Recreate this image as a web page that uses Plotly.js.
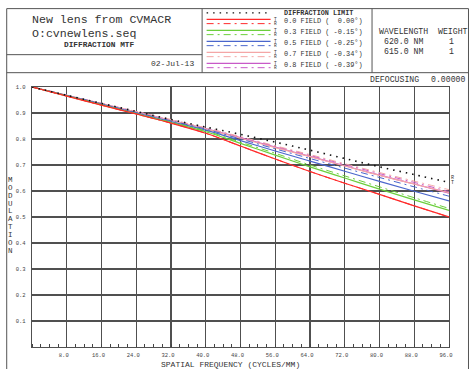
<!DOCTYPE html>
<html><head><meta charset="utf-8">
<script src="https://cdn.plot.ly/plotly-3.0.1.min.js"></script>
<style>html,body{margin:0;padding:0;background:#fff;}#chart{width:475px;height:369px;}</style>
</head><body><div id="chart"></div>
<script>
// ---- data ----
var freq = [0, 8, 16, 24, 32, 40, 48, 56, 64, 72, 80, 88, 96];
var diffLimit = [1.0, 0.968, 0.937, 0.906, 0.875, 0.846, 0.818, 0.788, 0.757, 0.725, 0.693, 0.663, 0.633];
var f00T = [1.0, 0.965, 0.930, 0.896, 0.861, 0.822, 0.773, 0.723, 0.675, 0.630, 0.587, 0.543, 0.500];
var f00R = [1.0, 0.965, 0.930, 0.896, 0.861, 0.822, 0.773, 0.723, 0.675, 0.630, 0.587, 0.543, 0.500];
var f03T = [1.0, 0.966, 0.931, 0.897, 0.863, 0.828, 0.783, 0.738, 0.693, 0.650, 0.607, 0.566, 0.525];
var f03R = [1.0, 0.966, 0.932, 0.898, 0.865, 0.831, 0.788, 0.745, 0.700, 0.658, 0.616, 0.574, 0.533];
var f05T = [1.0, 0.967, 0.934, 0.900, 0.867, 0.834, 0.794, 0.754, 0.715, 0.676, 0.637, 0.599, 0.562];
var f05R = [1.0, 0.968, 0.935, 0.902, 0.870, 0.838, 0.800, 0.762, 0.725, 0.688, 0.652, 0.616, 0.580];
var f07T = [1.0, 0.968, 0.936, 0.904, 0.872, 0.839, 0.803, 0.767, 0.732, 0.696, 0.660, 0.627, 0.594];
var f07R = [1.0, 0.968, 0.937, 0.906, 0.875, 0.843, 0.809, 0.774, 0.740, 0.705, 0.671, 0.638, 0.605];
var f08T = [1.0, 0.968, 0.936, 0.904, 0.872, 0.840, 0.805, 0.769, 0.733, 0.697, 0.661, 0.627, 0.592];
var f08R = [1.0, 0.968, 0.937, 0.905, 0.873, 0.842, 0.807, 0.772, 0.737, 0.702, 0.667, 0.633, 0.598];

var xTickVals = [0, 8, 16, 24, 32, 40, 48, 56, 64, 72, 80, 88, 96];
var xTickText = ['', '8.0', '16.0', '24.0', '32.0', '40.0', '48.0', '56.0', '64.0', '72.0', '80.0', '88.0', '96.0'];
var yTickVals = [0, 0.1, 0.2, 0.3, 0.4, 0.5, 0.6, 0.7, 0.8, 0.9, 1.0];
var yTickText = ['', '0.1', '0.2', '0.3', '0.4', '0.5', '0.6', '0.7', '0.8', '0.9', '1.0'];

var fieldLabels = ['0.0 FIELD (\u00a0\u00a00.00\u00b0)', '0.3 FIELD ( -0.15\u00b0)', '0.5 FIELD ( -0.25\u00b0)', '0.7 FIELD ( -0.34\u00b0)', '0.8 FIELD ( -0.39\u00b0)'];
var fieldColors = ['#ff2a2a', '#6ccf3c', '#4a66cc', '#f4a6a6', '#c85ac8'];
var seriesT = [f00T, f03T, f05T, f07T, f08T];
var seriesR = [f00R, f03R, f05R, f07R, f08R];

// ---- pixel helpers for decoration ----
var PL = 32.3, PR = 449.5, PT = 87.3, PB = 347;
function X(px) { return (px - PL) / (PR - PL); }
function Y(py) { return (PB - py) / (PB - PT); }
var MONO = 'Liberation Mono, Courier New, monospace';
var TXT = '#333';
var DOTS = '1.5px,5px';
var DASHDOT = '7px,4px,2px,4px';

var traces = [];
for (var i = seriesT.length - 1; i >= 0; i--) {
  traces.push({x: freq, y: seriesR[i], mode: 'lines', line: {color: fieldColors[i], width: 1.0, dash: DASHDOT, shape: 'spline'}, hoverinfo: 'skip'});
  traces.push({x: freq, y: seriesT[i], mode: 'lines', line: {color: fieldColors[i], width: 1.2, shape: 'spline'}, hoverinfo: 'skip'});
}
traces.push({x: freq, y: diffLimit, mode: 'lines', line: {color: '#111', width: 1.6, dash: DOTS, shape: 'spline'}, hoverinfo: 'skip'});

var shapes = [];
function hline(x0, x1, y, col, w, dash) { shapes.push({type: 'line', xref: 'paper', yref: 'paper', x0: X(x0), x1: X(x1), y0: Y(y), y1: Y(y), line: {color: col, width: w, dash: dash || 'solid'}}); }
function vline(x, y0, y1, col, w) { shapes.push({type: 'line', xref: 'paper', yref: 'paper', x0: X(x), x1: X(x), y0: Y(y0), y1: Y(y1), line: {color: col, width: w}}); }
// frame
var FC = '#555';
hline(7, 469, 9, FC, 1);
vline(7, 9, 372, FC, 1);
vline(469, 9, 372, FC, 1);
hline(7, 469, 73, FC, 1);
vline(202.5, 9, 73, FC, 1);
vline(372.5, 9, 73, FC, 1);
hline(7, 202.5, 55, FC, 1);
// legend lines
hline(207, 271, 13.3, '#111', 1.4, DOTS);
for (var k = 0; k < 5; k++) {
  hline(207, 271, 19.7 + 11 * k, fieldColors[k], 1.2);
  hline(207, 271, 24 + 11 * k, fieldColors[k], 1.0, DASHDOT);
}

var ann = [];
function txt(s, px, py, size, anchor, extra) {
  var a = {text: s, xref: 'paper', yref: 'paper', x: X(px), y: Y(py), xanchor: anchor || 'left', yanchor: 'middle', showarrow: false, font: {family: MONO, size: size, color: TXT}};
  if (extra) for (var key in extra) a[key] = extra[key];
  ann.push(a);
}
txt('New lens from CVMACR', 30.5, 20, 11.6);
txt('O:cvnewlens.seq', 30.5, 33.5, 11.6);
txt('<b>DIFFRACTION MTF</b>', 62.5, 45.7, 7.8);
txt('02-Jul-13', 196, 64, 8, 'right');
txt('<b>DIFFRACTION LIMIT</b>', 282, 13.3, 6.8);
for (var m = 0; m < 5; m++) {
  txt(fieldLabels[m], 282.5, 21.5 + 11 * m, 6.9);
  txt('T', 276, 19.5 + 11 * m, 4.5, 'center');
  txt('R', 276, 23.8 + 11 * m, 4.5, 'center');
}
txt('WAVELENGTH', 377.5, 32.3, 8.2);
txt('WEIGHT', 436, 32.3, 8.2);
txt('620.0 NM', 382.5, 42.3, 8.2);
txt('1', 452.3, 42.3, 8.2, 'center');
txt('615.0 NM', 382.5, 52.3, 8.2);
txt('1', 452.3, 52.3, 8.2, 'center');
txt('DEFOCUSING', 368, 79.7, 8.2);
txt('0.00000', 429, 79.7, 8.2);
txt('SPATIAL FREQUENCY (CYCLES/MM)', 231, 364, 8, 'center');
txt('R', 453, 178, 5, 'center');
txt('T', 453, 183, 5, 'center');
var ylet = 'MODULATION'.split('');
for (var n = 0; n < ylet.length; n++) txt(ylet[n], 10.5, 180 + 7.9 * n, 7.5, 'center');

var layout = {
  width: 475, height: 369,
  margin: {l: PL, r: 475 - PR, t: PT, b: 369 - PB, pad: 0},
  paper_bgcolor: '#fff', plot_bgcolor: '#fff',
  showlegend: false,
  xaxis: {range: [0, 96], tickmode: 'array', tickvals: xTickVals, ticktext: xTickText,
    showgrid: true, gridcolor: '#505050', gridwidth: 1.3, zeroline: false,
    showline: true, linecolor: '#505050', linewidth: 1.3, mirror: true, ticks: '',
    tickfont: {family: MONO, size: 5.5, color: '#444'}, ticklabelshift: -3, ticklabelstandoff: 2,
    minor: {dtick: 2, ticks: 'inside', ticklen: 3, tickcolor: '#444', tickwidth: 1, showgrid: false},
    fixedrange: true},
  yaxis: {range: [0, 1], tickmode: 'array', tickvals: yTickVals, ticktext: yTickText,
    showgrid: true, gridcolor: '#505050', gridwidth: 1.3, zeroline: false,
    showline: true, linecolor: '#505050', linewidth: 1.3, mirror: true, ticks: '',
    tickfont: {family: MONO, size: 5.5, color: '#444'}, ticklabelstandoff: 4,
    fixedrange: true},
  shapes: shapes,
  annotations: ann
};
Plotly.newPlot('chart', traces, layout, {displayModeBar: false, staticPlot: true});
</script>
</body></html>
